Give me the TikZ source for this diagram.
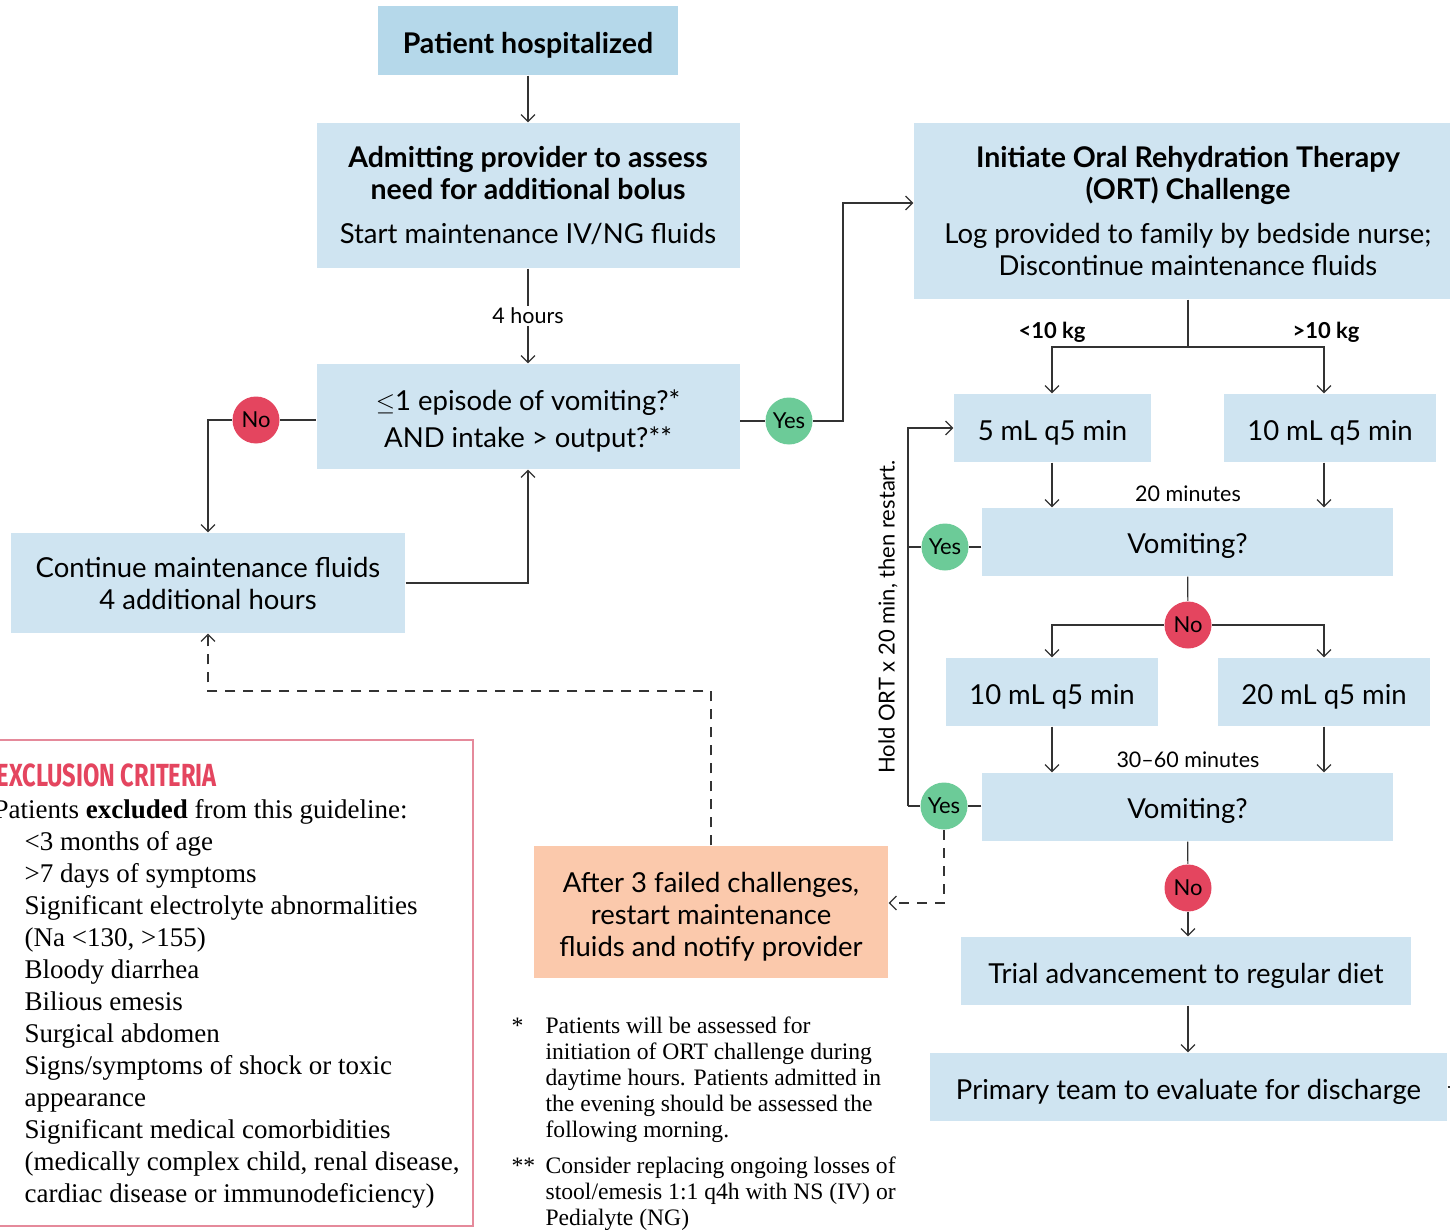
\documentclass[tikz,border=0pt]{standalone}
\usepackage{fontspec}
\setmainfont{Liberation Serif}
\setsansfont{Lato}
\newfontfamily\condfont[FakeStretch=0.74]{Fira Sans}
\usetikzlibrary{positioning, arrows.meta}

\definecolor{boxblue}{HTML}{CFE4F1}
\definecolor{topblue}{HTML}{B5D8EA}
\definecolor{peach}{HTML}{FBC9AC}
\definecolor{noRed}{HTML}{E4455F}
\definecolor{yesGreen}{HTML}{6CCB98}
\definecolor{frameRed}{HTML}{E58A9B}

\newcommand{\boxtitle}[1]{{\bfseries\fontsize{28.5}{32}\selectfont #1}}
% strut that pushes the text of a box a little lower
\newcommand{\dropline}[1][29pt]{\rule{0pt}{#1}}

\begin{document}
\begin{tikzpicture}[x=1pt, y=-1pt, line width=1.2pt, draw=black!80,
  arr/.style={-{Straight Barb[length=7pt, width=14pt]}},
  font=\sffamily\fontsize{27.5}{32}\selectfont]
  % Set the node styles
  \tikzset{
    flowbox/.style={fill=boxblue, inner sep=0pt, align=center},
    circnode/.style={circle, inner sep=0pt, minimum size=47pt, font=\sffamily\fontsize{22}{26}\selectfont},
    nonode/.style={circnode, fill=noRed},
    yesnode/.style={circnode, fill=yesGreen},
    lbl/.style={inner sep=2pt, font=\sffamily\fontsize{21.5}{24}\selectfont},
    kglbl/.style={lbl, font=\sffamily\bfseries\fontsize{22}{24}\selectfont},
    extext/.style={anchor=base west, inner sep=0pt, font=\rmfamily\fontsize{27}{32}\selectfont},
    fntext/.style={anchor=north west, inner sep=0pt, align=left, font=\rmfamily\fontsize{23.6}{26}\selectfont}
  }
  \useasboundingbox (0,0) rectangle (1450,1230);

  % Column coordinates
  \coordinate (lcol) at (1052,0);
  \coordinate (mcol) at (1188,0);
  \coordinate (rcol) at (1324,0);

  % Left branch
  \node[flowbox, fill=topblue, minimum width=300pt, minimum height=69pt]
    (patient) at (528,40.5) {\dropline[30pt]\boxtitle{Patient hospitalized}};
  \node[flowbox, minimum width=423pt, minimum height=145pt] (admit) at (528,195.5)
    {\boxtitle{Admitting provider to assess}\\ \boxtitle{need for additional bolus}\\[12pt] Start maintenance IV/NG fluids};
  \node[flowbox, minimum width=423pt, minimum height=105pt] (q1) at (528,416.5)
    {\dropline$\leq$1 episode of vomiting?*\\[5pt] AND intake > output?**};
  \node[flowbox, minimum width=394pt, minimum height=100pt] (cont) at (208,583)
    {Continue maintenance fluids\\ 4 additional hours};
  \node[flowbox, fill=peach, minimum width=354pt, minimum height=132pt] (after) at (711,912)
    {\dropline[30pt]After 3 failed challenges,\\ restart maintenance\\ fluids and notify provider};

  % Right branch
  \node[flowbox, minimum width=548pt, minimum height=176pt] (ort) at (1188,211)
    {\boxtitle{Initiate Oral Rehydration Therapy}\\ \boxtitle{(ORT) Challenge}\\[12pt] Log provided to family by bedside nurse;\\ Discontinue maintenance fluids};
  \node[flowbox, minimum width=197pt, minimum height=68pt] (ml5) at (1052.5,428) {\dropline 5 mL q5 min};
  \node[flowbox, minimum width=212pt, minimum height=68pt] (ml10) at (1330,428) {\dropline 10 mL q5 min};
  \node[flowbox, minimum width=411pt, minimum height=68pt] (vom1) at (1187.5,542) {\dropline Vomiting?};
  \node[flowbox, minimum width=212pt, minimum height=68pt] (ml10b) at (1052,692) {\dropline 10 mL q5 min};
  \node[flowbox, minimum width=212pt, minimum height=68pt] (ml20) at (1324,692) {\dropline 20 mL q5 min};
  \node[flowbox, minimum width=411pt, minimum height=68pt] (vom2) at (1187.5,807) {\dropline Vomiting?};
  \node[flowbox, minimum width=450pt, minimum height=68pt] (trial) at (1186,971) {\dropline Trial advancement to regular diet};
  \node[flowbox, minimum width=517pt, minimum height=68pt] (primary) at (1188.5,1087) {\dropline Primary team to evaluate for discharge};

  % Decision circles
  \node[nonode] (no1) at (256,420) {No};
  \node[yesnode] (yes1) at (789,421) {Yes};
  \node[yesnode] (yes2) at (945,547) {Yes};
  \node[nonode] (no2) at (1188,625) {No};
  \node[yesnode] (yes3) at (944,806) {Yes};
  \node[nonode] (no3) at (1188,888) {No};

  % Labels
  \node[kglbl] (kgl) at (1052,332) {<10 kg};
  \node[kglbl] (kgr) at (1326,332) {>10 kg};
  \node[lbl] (min20) at (1188,494) {20 minutes};
  \node[lbl] (min30) at (1188,760) {30--60 minutes};
  \node[lbl, rotate=90, font=\sffamily\fontsize{22}{24}\selectfont] (hold) at (888,617) {Hold ORT x 20 min, then restart.};

  % Turning points
  \coordinate (turn1) at (843,421);
  \coordinate (split1) at (1188,347);
  \coordinate (loopx) at (908,0);
  \coordinate (dturn) at (711,691);
  \coordinate (dturn2) at (944,903);
  \coordinate (pstub) at (1456,1087);

  % Connect the left branch
  \draw[arr] (patient) -- (admit);
  \draw[arr] (admit) -- node[lbl, fill=white] {4 hours} (q1);
  \draw (q1.west |- no1) -- (no1);
  \draw[arr] (no1) -| (cont);
  \draw[arr] (cont.east) -| (q1);
  \draw (q1.east |- yes1) -- (yes1);
  \draw[arr] (yes1) -- (turn1) |- ([yshift=8pt]ort.west);
  \draw[arr, dashed, dash pattern=on 10pt off 8pt] (after) -- (dturn) -| (cont);

  % Connect the ORT branch
  \draw (ort) -- (split1);
  \draw[arr] (split1) -| (ml5.north -| lcol);
  \draw[arr] (split1) -| (ml10.north -| rcol);
  \draw[arr] (ml5.south -| lcol) -- (vom1.north -| lcol);
  \draw[arr] (ml10.south -| rcol) -- (vom1.north -| rcol);
  \draw (vom1) -- (no2);
  \draw[arr] (no2) -| (ml10b.north -| lcol);
  \draw[arr] (no2) -| (ml20.north -| rcol);
  \draw[arr] (ml10b.south -| lcol) -- (vom2.north -| lcol);
  \draw[arr] (ml20.south -| rcol) -- (vom2.north -| rcol);
  \draw (vom2) -- (no3);
  \draw[arr] (no3) -- (trial.north -| no3);
  \draw[arr] (trial.south -| no3) -- (primary.north -| no3);
  \draw (primary.east) -- (pstub);

  % Hold loop
  \draw (vom1.west |- yes2) -- (yes2) -- (yes2 -| loopx);
  \draw (vom2.west |- yes3) -- (yes3) -- (yes3 -| loopx);
  \draw[arr] (yes3 -| loopx) |- (ml5.west);
  \draw[arr, dashed, dash pattern=on 10pt off 8pt] (yes3) -- (dturn2) -- (after.east |- dturn2);

  % Exclusion criteria panel
  \draw[frameRed, line width=1.5pt] (-20,740) rectangle (473,1226);
  \node[anchor=base west, inner sep=0pt, text=noRed, font=\condfont\bfseries\fontsize{32}{32}\selectfont]
    (exhead) at (-4,786) {EXCLUSION CRITERIA};
  \node[extext] (exintro) at (-7,818) {Patients \textbf{excluded} from this guideline:};
  \foreach \t [count=\k] in {{<3 months of age}, {>7 days of symptoms},
      {Significant electrolyte abnormalities}, {(Na <130, >155)}, {Bloody diarrhea},
      {Bilious emesis}, {Surgical abdomen}, {Signs/symptoms of shock or toxic},
      {appearance}, {Significant medical comorbidities},
      {(medically complex child, renal disease,}, {cardiac disease or immunodeficiency)}}{
    \node[extext] (ex\k) at (24,818+32*\k) {\t};
  }

  % Footnotes
  \node[fntext] (fn1star) at (511,1017) {*};
  \node[fntext] (fn1) at (545,1016) {Patients will be assessed for\\ initiation of ORT challenge during\\ daytime hours. Patients admitted in\\ the evening should be assessed the\\ following morning.};
  \node[fntext] (fn2star) at (511,1157) {**};
  \node[fntext] (fn2) at (545,1156) {Consider replacing ongoing losses of\\ stool/emesis 1:1 q4h with NS (IV) or\\ Pedialyte (NG)};
\end{tikzpicture}
\end{document}
